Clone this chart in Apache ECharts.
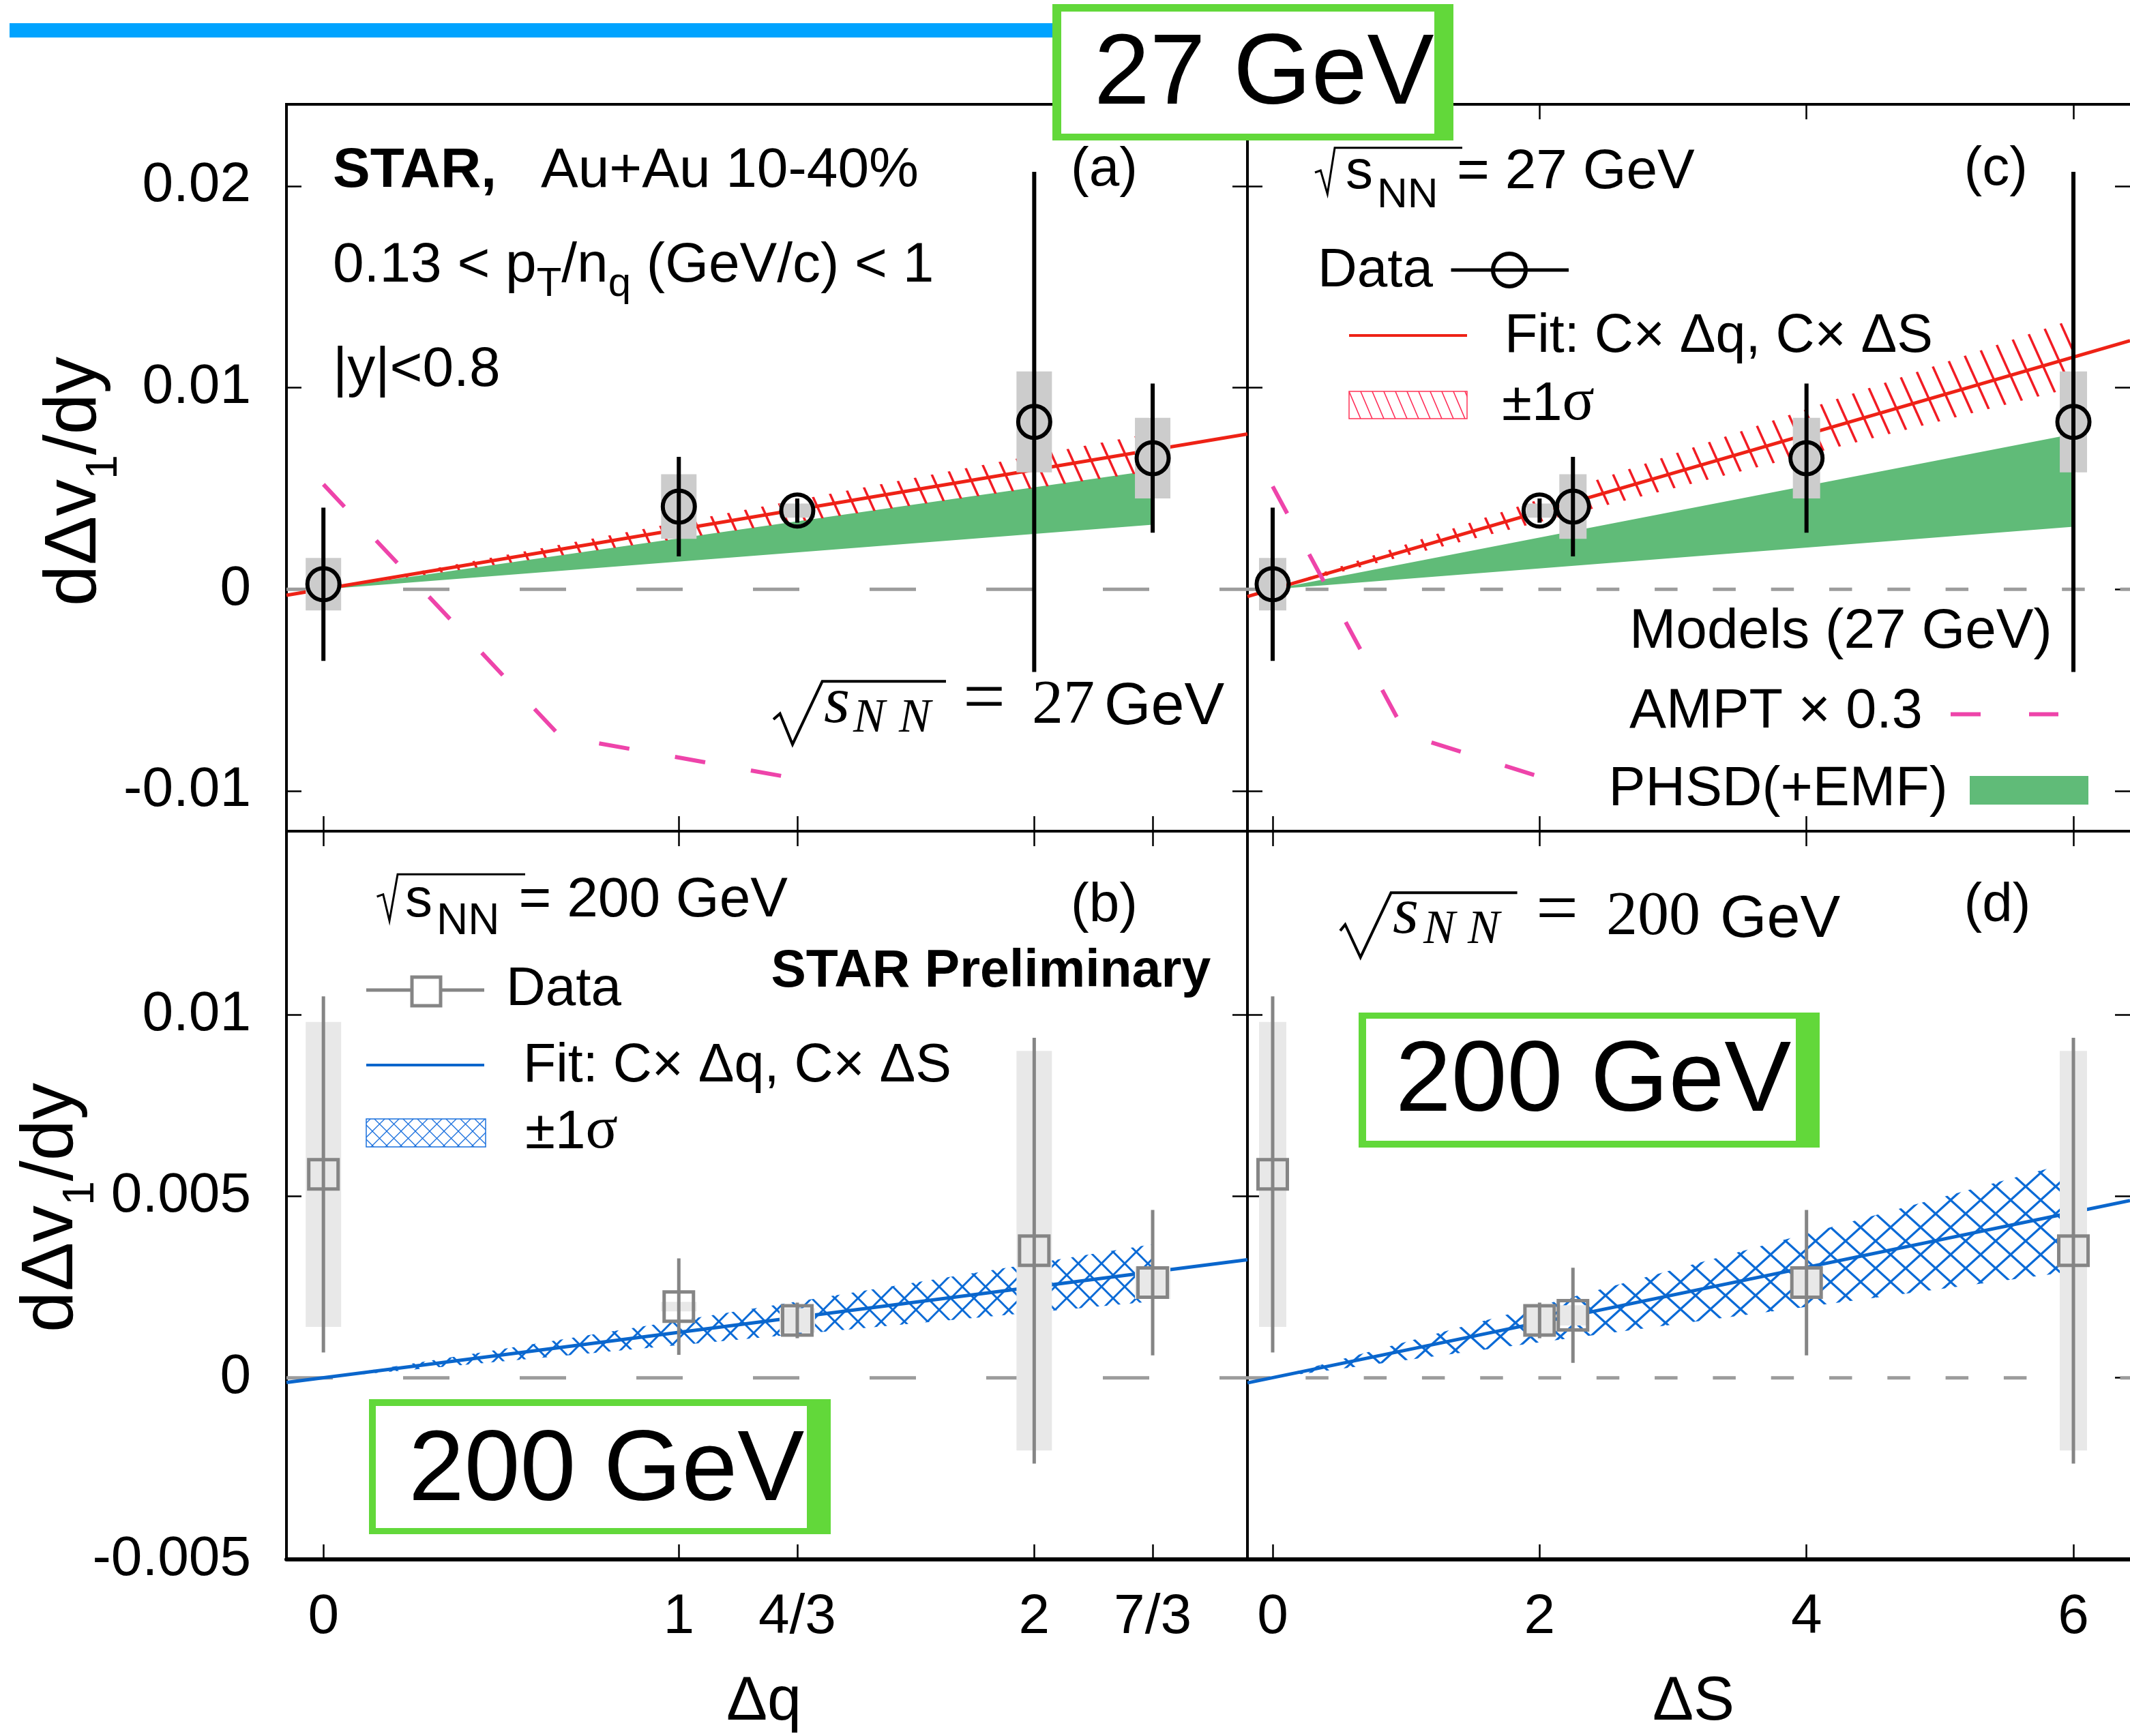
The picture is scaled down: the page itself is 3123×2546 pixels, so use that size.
<!DOCTYPE html>
<html>
<head>
<meta charset="utf-8">
<title>dΔv1/dy vs Δq and ΔS</title>
<script src="https://cdn.jsdelivr.net/npm/echarts@6.0.0/dist/echarts.min.js"></script>
<style>
html, body { margin: 0; padding: 0; background: #fff; }
#main { width: 3123px; height: 2546px; }
</style>
</head>
<body>
<div id="main"></div>
<script>
// ---- values ----
// x position of each measurement in the two projections
var dq = [0, 1, 4 / 3, 2, 7 / 3];
var dS = [0, 2.25, 2, 6, 4];

// 27 GeV, panels (a) and (c)
var v27 = [0.00025, 0.0041, 0.0039, 0.0083, 0.0065];
var stat27 = [0.0038, 0.00247, 0.0006, 0.0124, 0.0037];
var sys27 = [0.0013, 0.0016, 0.00035, 0.0025, 0.002];

// 200 GeV, panels (b) and (d)
var v200q = [0.0056, 0.00196, 0.00158, 0.0035, 0.00262];
var stat200q = [0.0049, 0.00133, 0.00049, 0.00586, 0.002];
var sys200q = [0.0042, 0.00013, 0.00034, 0.0055, 0.00045];
var v200s = [0.0056, 0.00172, 0.00158, 0.0035, 0.00262];
var stat200s = [0.0049, 0.00131, 0.00049, 0.00586, 0.002];
var sys200s = [0.0042, 0.00028, 0.00044, 0.0055, 0.00045];

// fits C x dq, C x dS (end points)
var fitQ27x = [-0.104, 2.6], fitQ27y = [-0.0003, 0.0077];
var fitS27x = [-0.189, 6.424], fitS27y = [-0.00036, 0.01233];
var fitQ200x = [-0.104, 2.6], fitQ200y = [-0.00013, 0.00325];
var fitS200x = [-0.189, 6.424], fitS200y = [-0.00014, 0.00488];

// +-1 sigma bands of the fits
var bandQ27x = [0, 7 / 3], bandQ27lo = [0, 0.00585], bandQ27hi = [0, 0.00775];
var bandS27x = [0, 6], bandS27lo = [0, 0.0100], bandS27hi = [0, 0.0134];
var bandQ200x = [0, 7 / 3], bandQ200lo = [0, 0.0021], bandQ200hi = [0, 0.00368];
var bandS200x = [0, 6], bandS200lo = [0, 0.00293], bandS200hi = [0, 0.00595];

// models at 27 GeV
var phsdQx = [0, 7 / 3], phsdQlo = [0, 0.0032], phsdQhi = [0, 0.0059];
var phsdSx = [0, 6], phsdSlo = [0, 0.0031], phsdShi = [0, 0.0077];
var amptQx = [0, 2 / 3, 4 / 3], amptQy = [0.0052, -0.0073, -0.0094];
var amptSx = [0, 1, 2], amptSy = [0.0051, -0.0072, -0.0093];

// ticks
var dqTicks = [0, 1, 4 / 3, 2, 7 / 3], dqLabels = ['0', '1', '4/3', '2', '7/3'];
var dSTicks = [0, 2, 4, 6], dSLabels = ['0', '2', '4', '6'];
var yTicks27 = [-0.01, 0, 0.01, 0.02], yLabels27 = ['-0.01', '0', '0.01', '0.02'];
var yTicks200 = [-0.005, 0, 0.005, 0.01], yLabels200 = ['-0.005', '0', '0.005', '0.01'];

// ---- styling ----
var SANS = '"Liberation Sans", Arial, Helvetica, sans-serif';
var SERIF = '"Liberation Serif", "Times New Roman", serif';
var RED = '#ee2216', BLUE = '#0a66cc', GREEN = '#60bb78', PINK = '#ee44aa';
var GRAY = '#858585', ZERO = '#9c9c9c', GBOX = '#62d83a';

function hatch(w, h, color, lw, cross) {
  var c = document.createElement('canvas');
  c.width = w; c.height = h;
  var g = c.getContext('2d');
  g.strokeStyle = color; g.lineWidth = lw;
  for (var k = -1; k <= 1; k++) {
    g.beginPath(); g.moveTo(k * w - w, -h); g.lineTo(k * w + 2 * w, 2 * h); g.stroke();
    if (cross) { g.beginPath(); g.moveTo(k * w + w, -h); g.lineTo(k * w - 2 * w, 2 * h); g.stroke(); }
  }
  return { image: c, repeat: 'repeat' };
}
var redHatch = hatch(27, 60, '#f21c24', 3.5, false);
var blueCrossB = hatch(34, 34, '#0a6ad6', 3, true);
var blueCrossD = hatch(44, 40, '#0a6ad6', 3.2, true);
var swRed = hatch(17, 40, '#ff2a55', 1.5, false);
var swBlue = hatch(21, 21, '#1a70dd', 1.3, true);

function lookup(v, ticks, labels) {
  for (var i = 0; i < ticks.length; i++) {
    if (Math.abs(ticks[i] - v) < 1e-9) return labels[i];
  }
  return '';
}

function xAxisDef(grid, min, max, ticks, labels, pos, showTicks, showLabels, lineW) {
  return {
    type: 'value', gridIndex: grid, min: min, max: max, position: pos,
    splitLine: { show: false },
    axisLine: { show: !!lineW, onZero: false, lineStyle: { color: '#000', width: lineW || 1 } },
    axisTick: { show: showTicks, inside: true, length: 22, lineStyle: { color: '#000', width: 2.5 }, customValues: ticks },
    axisLabel: {
      show: showLabels, customValues: ticks, margin: 85, verticalAlign: 'middle',
      fontSize: 82, fontFamily: SANS, color: '#000',
      formatter: function (v) { return lookup(v, ticks, labels); }
    }
  };
}
function yAxisDef(grid, min, max, ticks, labels, pos, showLabels) {
  return {
    type: 'value', gridIndex: grid, min: min, max: max, position: pos,
    splitLine: { show: false },
    axisLine: { show: false, onZero: false },
    axisTick: { show: true, inside: true, length: 22, lineStyle: { color: '#000', width: 2.5 }, customValues: ticks },
    axisLabel: {
      show: showLabels, customValues: ticks, margin: 52,
      fontSize: 82, fontFamily: SANS, color: '#000',
      formatter: function (v) { return lookup(v, ticks, labels); }
    }
  };
}

function zeroSeries(ax, dash) {
  return {
    type: 'custom', xAxisIndex: ax, yAxisIndex: ax, z: 1, silent: true,
    data: [[0, 0]],
    renderItem: function (params, api) {
      var cs = params.coordSys;
      var y = api.coord([api.value(0), api.value(1)])[1];
      return { type: 'line', shape: { x1: cs.x, y1: y, x2: cs.x + cs.width, y2: y },
        style: { stroke: ZERO, lineWidth: 5, lineDash: dash } };
    }
  };
}
function bandSeries(ax, xs, lo, hi, fill, z) {
  return {
    type: 'custom', xAxisIndex: ax, yAxisIndex: ax, z: z, silent: true,
    data: xs.map(function (x, i) { return [x, lo[i], hi[i]]; }),
    renderItem: function (params, api) {
      if (params.dataIndex !== 0) return null;
      var top = [], bot = [];
      for (var i = 0; i < xs.length; i++) {
        top.push(api.coord([xs[i], hi[i]]));
        bot.unshift(api.coord([xs[i], lo[i]]));
      }
      return { type: 'polygon', shape: { points: top.concat(bot) }, style: { fill: fill } };
    }
  };
}
function lineSeries(ax, xs, ys, color, width, type, z) {
  return {
    type: 'line', xAxisIndex: ax, yAxisIndex: ax, z: z, silent: true,
    symbol: 'none', showSymbol: false,
    data: xs.map(function (x, i) { return [x, ys[i]]; }),
    lineStyle: { color: color, width: width, type: type }
  };
}
function sysSeries(ax, xs, ys, es, color, halfW) {
  return {
    type: 'custom', xAxisIndex: ax, yAxisIndex: ax, z: 5, silent: true,
    data: xs.map(function (x, i) { return [x, ys[i] - es[i], ys[i] + es[i]]; }),
    renderItem: function (params, api) {
      var lo = api.coord([api.value(0), api.value(1)]);
      var hi = api.coord([api.value(0), api.value(2)]);
      return { type: 'rect', shape: { x: lo[0] - halfW, y: hi[1], width: 2 * halfW, height: lo[1] - hi[1] },
        style: { fill: color } };
    }
  };
}
function errSeries(ax, xs, ys, es, color, width) {
  return {
    type: 'custom', xAxisIndex: ax, yAxisIndex: ax, z: 6, silent: true,
    data: xs.map(function (x, i) { return [x, ys[i] - es[i], ys[i] + es[i]]; }),
    renderItem: function (params, api) {
      var lo = api.coord([api.value(0), api.value(1)]);
      var hi = api.coord([api.value(0), api.value(2)]);
      return { type: 'line', shape: { x1: lo[0], y1: lo[1], x2: hi[0], y2: hi[1] },
        style: { stroke: color, lineWidth: width } };
    }
  };
}
function pointSeries(ax, xs, ys, symbol, size, color, bw) {
  return {
    type: 'scatter', xAxisIndex: ax, yAxisIndex: ax, z: 7, silent: true,
    symbol: symbol, symbolSize: size,
    data: xs.map(function (x, i) { return [x, ys[i]]; }),
    itemStyle: { color: 'rgba(0,0,0,0)', borderColor: color, borderWidth: bw, opacity: 1 }
  };
}

var series = [].concat(
  // (a) 27 GeV vs dq
  zeroSeries(0, [68, 103]),
  bandSeries(0, phsdQx, phsdQlo, phsdQhi, GREEN, 2),
  bandSeries(0, bandQ27x, bandQ27lo, bandQ27hi, redHatch, 3),
  lineSeries(0, fitQ27x, fitQ27y, RED, 5, 'solid', 4),
  lineSeries(0, amptQx, amptQy, PINK, 6, [45, 68], 4),
  sysSeries(0, dq, v27, sys27, '#cccccc', 26),
  errSeries(0, dq, v27, stat27, '#000', 6),
  pointSeries(0, dq, v27, 'circle', 47, '#000', 6),
  // (c) 27 GeV vs dS
  zeroSeries(1, [33.5, 51.8]),
  bandSeries(1, phsdSx, phsdSlo, phsdShi, GREEN, 2),
  bandSeries(1, bandS27x, bandS27lo, bandS27hi, redHatch, 3),
  lineSeries(1, fitS27x, fitS27y, RED, 5, 'solid', 4),
  lineSeries(1, amptSx, amptSy, PINK, 6, [45, 68], 4),
  sysSeries(1, dS, v27, sys27, '#cccccc', 20),
  errSeries(1, dS, v27, stat27, '#000', 6),
  pointSeries(1, dS, v27, 'circle', 47, '#000', 6),
  // (b) 200 GeV vs dq
  zeroSeries(2, [68, 103]),
  bandSeries(2, bandQ200x, bandQ200lo, bandQ200hi, blueCrossB, 3),
  lineSeries(2, fitQ200x, fitQ200y, BLUE, 5, 'solid', 4),
  sysSeries(2, dq, v200q, sys200q, '#e8e8e8', 26),
  errSeries(2, dq, v200q, stat200q, GRAY, 5),
  pointSeries(2, dq, v200q, 'rect', 43, GRAY, 5),
  // (d) 200 GeV vs dS
  zeroSeries(3, [33.5, 51.8]),
  bandSeries(3, bandS200x, bandS200lo, bandS200hi, blueCrossD, 3),
  lineSeries(3, fitS200x, fitS200y, BLUE, 5, 'solid', 4),
  sysSeries(3, dS, v200s, sys200s, '#e8e8e8', 20),
  errSeries(3, dS, v200s, stat200s, GRAY, 5),
  pointSeries(3, dS, v200s, 'rect', 43, GRAY, 5)
);

// ---- annotation helpers ----
var mctx = document.createElement('canvas').getContext('2d');
function fontOf(p) {
  return (p.italic ? 'italic ' : '') + (p.bold ? 'bold ' : '') + p.s + 'px ' + (p.f || SANS);
}
// pieces share a baseline; dy moves a piece's baseline (subscripts)
function run(x, base, pieces, align) {
  var widths = pieces.map(function (p) { mctx.font = fontOf(p); return mctx.measureText(p.t).width; });
  var total = widths.reduce(function (a, b) { return a + b; }, 0);
  var cx = align === 'center' ? x - total / 2 : x;
  return pieces.map(function (p, i) {
    var mid = (p.f === SERIF ? 0.3375 : 0.3465) * p.s;
    var el = {
      type: 'text', z: 50, x: cx, y: base + (p.dy || 0) - mid,
      style: {
        text: p.t, fill: '#000', fontSize: p.s, fontFamily: p.f || SANS,
        fontWeight: p.bold ? 'bold' : 'normal', fontStyle: p.italic ? 'italic' : 'normal',
        textAlign: 'left', textVerticalAlign: 'middle', align: 'left', verticalAlign: 'middle'
      }
    };
    cx += widths[i];
    return el;
  });
}
function rect(x, y, w, h, fill, stroke, lw) {
  return { type: 'rect', z: 50, shape: { x: x, y: y, width: w, height: h },
    style: { fill: fill, stroke: stroke || null, lineWidth: lw || 0 } };
}
function seg(x1, y1, x2, y2, color, w, dash) {
  return { type: 'line', z: 50, shape: { x1: x1, y1: y1, x2: x2, y2: y2 },
    style: { stroke: color, lineWidth: w, lineDash: dash || null } };
}
function radical(pts, w) {
  return { type: 'polyline', z: 50, shape: { points: pts }, style: { stroke: '#000', lineWidth: w, fill: null } };
}

var G = [];
// top banner and energy boxes
G.push(rect(14, 34, 1530, 21, '#00a3ff'));
G.push(rect(1543, 6, 588, 200, GBOX), rect(1556, 17, 547, 179, '#fff'));
G = G.concat(run(1604, 162, [{ t: '27 GeV', s: 147 }]));
G.push(rect(541, 2052, 677, 198, GBOX), rect(551, 2062, 632, 179, '#fff'));
G = G.concat(run(599, 2210, [{ t: '200 GeV', s: 147 }]));
G.push(rect(1992, 1485, 676, 198, GBOX), rect(2003, 1494, 630, 179, '#fff'));
G = G.concat(run(2046, 1639, [{ t: '200 GeV', s: 147 }]));

// panel (a)
G = G.concat(
  run(488, 279.5, [{ t: 'STAR,', s: 82, bold: true }]),
  run(793, 279.5, [{ t: 'Au+Au 10-40%', s: 82 }]),
  run(488, 418.6, [{ t: '0.13 < p', s: 82 }, { t: 'T', s: 60, dy: 20 }, { t: '/n', s: 82 },
    { t: 'q', s: 60, dy: 20 }, { t: ' (GeV/c) < 1', s: 82 }]),
  run(488, 571.5, [{ t: '|y|<0.8', s: 82 }]),
  run(1570, 278, [{ t: '(a)', s: 80 }]),
  radical([[1134, 1055], [1143.6, 1046.7], [1162, 1091.7], [1205.6, 999.3], [1387, 999.3]], 4),
  run(1208, 1066, [{ t: 's', s: 98, f: SERIF, italic: true }]),
  run(1251, 1078, [{ t: 'N', s: 70, f: SERIF, italic: true }]),
  run(1318, 1078, [{ t: 'N', s: 70, f: SERIF, italic: true }]),
  run(1412, 1066, [{ t: '=', s: 110, f: SERIF }]),
  run(1513, 1067, [{ t: '27', s: 92, f: SERIF }]),
  run(1619, 1068, [{ t: 'GeV', s: 88 }])
);

// panel (c)
G = G.concat(
  radical([[1928, 253], [1936.3, 250], [1946.3, 284.3], [1957, 216.8], [2144, 216.8]], 3),
  run(1973, 282, [{ t: 's', s: 80 }]),
  run(2019, 308, [{ t: 'NN', s: 62 }]),
  run(2136, 282, [{ t: '= 27 GeV', s: 82 }]),
  run(2879.5, 276.5, [{ t: '(c)', s: 80 }]),
  run(1932, 425.5, [{ t: 'Data', s: 80 }]),
  [seg(2127.5, 396, 2300, 396, '#000', 5),
   { type: 'circle', z: 50, shape: { cx: 2213, cy: 396, r: 24 }, style: { fill: null, stroke: '#000', lineWidth: 6 } },
   seg(1978, 492, 2151, 492, RED, 4),
   rect(1978, 574, 173, 40, swRed, '#ff3355', 1.5)],
  run(2206, 522, [{ t: 'Fit: C× Δq, C× ΔS', s: 79 }]),
  run(2202, 622, [{ t: '±1', s: 80 }, { t: 'σ', s: 88, f: SERIF }]),
  run(2389, 956, [{ t: 'Models (27 GeV)', s: 82 }]),
  run(2389, 1073, [{ t: 'AMPT × 0.3', s: 81 }]),
  [seg(2860, 1047.5, 3018, 1047.5, PINK, 6, [44, 71])],
  run(2358.5, 1186.6, [{ t: 'PHSD(+EMF)', s: 81 }]),
  [rect(2888, 1138, 174, 42, GREEN)]
);

// panel (b)
G = G.concat(
  radical([[552.6, 1315], [561.8, 1311.7], [571, 1350.3], [583, 1282.3], [770, 1282.3]], 3),
  run(594, 1350, [{ t: 's', s: 80 }]),
  run(640, 1375, [{ t: 'NN', s: 64 }]),
  run(760.6, 1350, [{ t: '= 200 GeV', s: 82 }]),
  run(1570, 1357, [{ t: '(b)', s: 80 }]),
  run(1130.5, 1452, [{ t: 'STAR Preliminary', s: 77, bold: true }]),
  [seg(537, 1452, 710, 1452, GRAY, 5),
   rect(604, 1433, 42, 42, '#fff', GRAY, 5),
   seg(537, 1562, 710, 1562, BLUE, 4),
   rect(537, 1641, 175, 41, swBlue, '#1a70dd', 1.5)],
  run(742, 1480, [{ t: 'Data', s: 80 }]),
  run(767, 1592, [{ t: 'Fit: C× Δq, C× ΔS', s: 79 }]),
  run(770, 1690, [{ t: '±1', s: 80 }, { t: 'σ', s: 88, f: SERIF }])
);

// panel (d)
G = G.concat(
  run(2879.5, 1357, [{ t: '(d)', s: 80 }]),
  radical([[1965, 1365], [1972.3, 1356], [1994.7, 1404], [2039.5, 1309.3], [2224.6, 1309.3]], 4),
  run(2042, 1375, [{ t: 's', s: 98, f: SERIF, italic: true }]),
  run(2087, 1388, [{ t: 'N', s: 70, f: SERIF, italic: true }]),
  run(2152, 1388, [{ t: 'N', s: 70, f: SERIF, italic: true }]),
  run(2252, 1376, [{ t: '=', s: 110, f: SERIF }]),
  run(2355, 1377, [{ t: '200', s: 92, f: SERIF }]),
  run(2522, 1380, [{ t: 'GeV', s: 88 }])
);

// axis titles
G = G.concat(
  run(1120, 2528, [{ t: 'Δq', s: 90 }], 'center'),
  run(2483, 2528, [{ t: 'ΔS', s: 90 }], 'center')
);
function yTitle(bx, cy) {
  return { type: 'group', x: bx, y: cy, rotation: Math.PI / 2, z: 50,
    children: run(0, 0, [{ t: 'dΔv', s: 108 }, { t: '1', s: 64, dy: 28 }, { t: '/dy', s: 108 }], 'center') };
}
G.push(yTitle(148, 706), yTitle(114, 1771));

var myChart = echarts.init(document.getElementById('main'), null, { renderer: 'canvas' });

var option = {
  animation: false,
  backgroundColor: '#fff',
  grid: [
    { left: 420, top: 153, width: 1409, height: 1066, show: true, borderColor: '#000', borderWidth: 4 },
    // right panels run off the picture edge, so their frame is drawn by the axis lines
    { left: 1829, top: 153, width: 1294, height: 1066, show: false },
    { left: 420, top: 1219, width: 1409, height: 1068, show: true, borderColor: '#000', borderWidth: 4 },
    { left: 1829, top: 1219, width: 1294, height: 1068, show: false }
  ],
  xAxis: [
    xAxisDef(0, -0.104, 2.6, dqTicks, dqLabels, 'bottom', true, false),
    xAxisDef(1, -0.189, 6.424, dSTicks, dSLabels, 'bottom', true, false, 4),
    xAxisDef(2, -0.104, 2.6, dqTicks, dqLabels, 'bottom', true, true, 6),
    xAxisDef(3, -0.189, 6.424, dSTicks, dSLabels, 'bottom', true, true, 6),
    xAxisDef(0, -0.104, 2.6, dqTicks, dqLabels, 'top', false, false),
    xAxisDef(1, -0.189, 6.424, dSTicks, dSLabels, 'top', true, false, 4),
    xAxisDef(2, -0.104, 2.6, dqTicks, dqLabels, 'top', true, false),
    xAxisDef(3, -0.189, 6.424, dSTicks, dSLabels, 'top', true, false)
  ],
  yAxis: [
    yAxisDef(0, -0.012, 0.02405, yTicks27, yLabels27, 'left', true),
    yAxisDef(1, -0.012, 0.02405, yTicks27, yLabels27, 'left', false),
    yAxisDef(2, -0.005, 0.01505, yTicks200, yLabels200, 'left', true),
    yAxisDef(3, -0.005, 0.01505, yTicks200, yLabels200, 'left', false),
    yAxisDef(0, -0.012, 0.02405, yTicks27, yLabels27, 'right', false),
    yAxisDef(1, -0.012, 0.02405, yTicks27, yLabels27, 'right', false),
    yAxisDef(2, -0.005, 0.01505, yTicks200, yLabels200, 'right', false),
    yAxisDef(3, -0.005, 0.01505, yTicks200, yLabels200, 'right', false)
  ],
  series: series,
  graphic: { elements: G }
};

myChart.setOption(option);
</script>
</body>
</html>
